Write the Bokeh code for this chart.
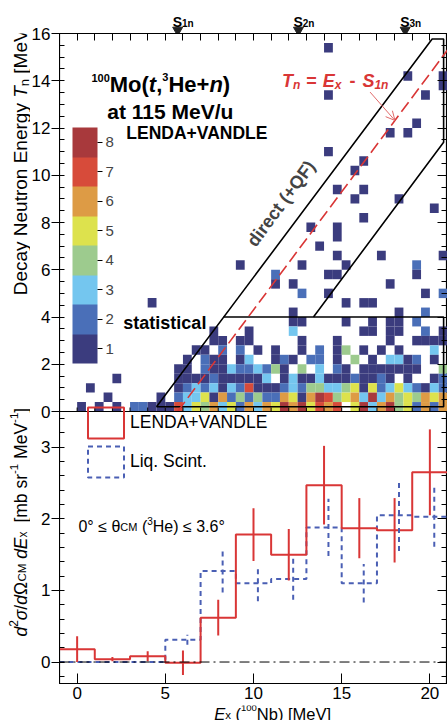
import math
from bokeh.plotting import figure
from bokeh.layouts import column, row
from bokeh.models import (ColumnDataSource, LinearColorMapper, ColorBar, FixedTicker,
                          LinearAxis, Label, Legend, LegendItem, Arrow, OpenHead,
                          Range1d, Span)
from bokeh.transform import linear_cmap
from bokeh.embed import file_html
from bokeh.resources import INLINE

# ------------------------------------------------------------------ data
EX_BIN = 0.5      # MeV, excitation-energy bin of the 2D histogram
TN_BIN = 0.4      # MeV, neutron-energy bin of the 2D histogram
EX_MIN = -1.0

count_levels = [1, 2, 3, 4, 5, 6, 7, 8]
count_palette = ["#3b3c7e", "#4a6fb8", "#74c6ef", "#9dcb8e",
                 "#dde24d", "#dd9b45", "#d74b3a", "#a8393c"]

# counts for Tn < 4 MeV: rows from Tn 3.6-4.0 (top) to 0-0.4 (bottom);
# 44 columns from Ex = -1 to 21 MeV ('.' = empty)
dense_rows = [
    "..........." "..........." "....11....1" "..1.11.2...",
    "..........." "......1...1" "....3......" ".11.11..2.1",
    "..........." "......11.11" ".....1...1." "....1..1111",
    "..........." "....11.2.2." "1.1..1.2.14" ".1.1.1...3.",
    "..........." "...1.211.13" "..121.22.1." "4.1.3312.1.",
    "..........." "..11.211322" "3241.4.3.21" ".1111111..4",
    "......1...." "..111121111" "13.13113111" "21121.1..12",
    "...1......." "..123231327" "11123244334" "51523532132",
    ".....1....." "1.233516242" "42265168745" "63836454656",
    "..1.1.1.221" "11735463526" "3658685767." "58368452626",
]

# isolated cells above Tn = 4 MeV (bin centres)
sparse_ex = [14.25, 18.75, 20.75, 20.75, 14.25, 19.75, 19.25, 17.75, 18.75, 14.25,
             16.25, 15.75, 14.75, 16.25, 15.75, 18.25, 20.25, 16.25, 13.25, 14.75,
             14.75, 13.75, 14.75, 17.25, 20.75, 9.25, 12.75, 15.25, 19.25, 11.25,
             14.25, 14.75, 19.25, 11.25, 12.25, 17.75, 12.75, 14.25, 19.75, 20.75,
             4.25, 15.25, 16.25, 16.75, 12.25, 18.25, 19.75]
sparse_tn = [15.4, 14.2, 14.2, 13.8, 13.4, 13.4, 12.2, 11.8, 11.8, 11.0,
             10.6, 10.2, 9.4, 9.4, 9.0, 9.0, 8.6, 8.2, 7.8, 7.8,
             7.4, 7.0, 6.6, 6.6, 6.6, 6.2, 6.2, 6.2, 6.2, 5.8,
             5.8, 5.8, 5.8, 5.4, 5.4, 5.4, 5.0, 5.0, 5.0, 5.0,
             4.6, 4.6, 4.6, 4.6, 4.2, 4.2, 4.2]
sparse_n = [1, 1, 1, 1, 1, 1, 1, 1, 1, 1,
            1, 1, 1, 1, 1, 1, 1, 1, 1, 1,
            1, 1, 1, 1, 1, 1, 1, 1, 2, 2,
            1, 1, 1, 1, 1, 1, 2, 1, 1, 2,
            1, 1, 1, 1, 1, 1, 2]

# neutron separation energies of 100Nb (MeV)
sep_names = ["1n", "2n", "3n"]
sep_energies = [5.7, 12.55, 18.6]
S1N = sep_energies[0]

# region outlines (Ex, Tn)
direct_ex = [4.5, 20.13, 20.78, 20.78, 13.4]
direct_tn = [0.2, 15.77, 15.77, 11.4, 4.0]
stat_ex = [8.3, 20.78, 20.78, 4.5]
stat_tn = [4.0, 4.0, 0.2, 0.2]
kin_ex = [S1N, 21.0]

# tick positions
tn_ticks = [0, 2, 4, 6, 8, 10, 12, 14, 16]
tn_minor = [k * 0.5 for k in range(33)]
xs_ticks = [0, 1, 2, 3]
xs_minor = [round(-0.2 + 0.2 * k, 1) for k in range(19)]
ex_ticks = [0, 5, 10, 15, 20]
ex_top_ticks = list(range(-1, 22))

# cross sections, 2 MeV bins
bin_lo = [-1, 1, 3, 5, 7, 9, 11, 13, 15, 17, 19]
BIN_W = 2.0
lv_val = [0.18, 0.04, 0.08, -0.01, 0.62, 1.78, 1.50, 2.47, 1.87, 1.84, 2.65]
lv_err = [0.18, 0.03, 0.07, 0.17, 0.25, 0.37, 0.36, 0.55, 0.42, 0.45, 0.60]
ls_val = [0.0, 0.0, 0.0, 0.31, 1.27, 1.10, 1.16, 1.88, 1.10, 2.05, 2.03]
ls_err = [0.0, 0.0, 0.0, 0.07, 0.30, 0.25, 0.29, 0.40, 0.27, 0.50, 0.42]
LS_SHIFT = 0.25

# ------------------------------------------------------------------ style / layout
FONT = "Liberation Sans"
RED = "#d93636"
BLUE = "#4a5fb4"
BASELINE_FIX = 4.0    # px: rendered alphabetic baseline sits this much low

TITLE_W = 30          # strip holding the rotated axis titles
TICK_W = 29           # strip holding the left tick labels
MAIN_W = 447 - TITLE_W - TICK_W
TOP_STRIP_H = 33
TOP_PX = 378          # top panel frame height
BOT_PX = 272          # bottom panel frame height
BOT_BORDER = 22
BOTTOM_STRIP_H = 720 - TOP_STRIP_H - TOP_PX - BOT_PX - BOT_BORDER

BOT_LO, BOT_HI = -0.3, 3.5
TN_HI = 16.0
MAIN_PER_MEV = ((BOT_HI - BOT_LO) / BOT_PX) * (TOP_PX / TN_HI)
INNER_TICK_MEV = 4 * TN_HI / TOP_PX     # 4 px tick length in Tn units


def tn_to_main(t):
    return BOT_HI + t * MAIN_PER_MEV


main_range = Range1d(BOT_LO, tn_to_main(TN_HI) + 1e-9)
tn_range = Range1d(-BOT_PX * TN_HI / TOP_PX, TN_HI + 1e-9 / MAIN_PER_MEV)
x_range = Range1d(-1, 21)

W_REG = {' ': 278, '(': 333, ')': 333, '+': 584, ',': 278, '-': 333, '.': 278, '/': 278,
         '=': 584, '[': 278, ']': 278, 'A': 667, 'B': 667, 'C': 722, 'D': 722, 'E': 667,
         'F': 611, 'H': 722, 'L': 556, 'M': 833, 'N': 722, 'Q': 778, 'S': 667, 'T': 611,
         'V': 667, 'a': 556, 'b': 556, 'c': 500, 'd': 556, 'e': 556, 'g': 556, 'h': 556,
         'i': 222, 'l': 222, 'm': 833, 'n': 556, 'o': 556, 'p': 556, 'r': 333, 's': 500,
         't': 278, 'u': 556, 'x': 500, 'y': 500, '°': 400, '≤': 549, 'θ': 556,
         'σ': 600, 'Ω': 768}
W_BOLD = {' ': 278, '(': 333, ')': 333, '+': 584, ',': 278, '-': 333, '.': 278, '/': 278,
          '=': 584, 'A': 722, 'D': 722, 'E': 667, 'F': 611, 'H': 722, 'L': 611, 'M': 833,
          'N': 722, 'Q': 778, 'S': 667, 'T': 611, 'V': 667, 'a': 556, 'c': 556, 'd': 611,
          'e': 556, 'i': 278, 'l': 278, 'n': 611, 'o': 611, 'r': 389, 's': 556, 't': 333,
          'u': 611, 'x': 556}


def text_width(s, size, bold):
    table = W_BOLD if bold else W_REG
    return sum(table.get(ch, 556) for ch in s) * size / 1000.0


def rich_text(p, x, y, segs, angle=0.0, color="black", dx0=0.0, dy0=0.0, **kw):
    """Lay out styled text pieces one after another along a baseline."""
    a = math.radians(angle)
    ca, sa = math.cos(a), math.sin(a)
    adv = 0.0
    for seg in segs:
        text, size, style = seg[0], seg[1], seg[2]
        rise = (seg[3] if len(seg) > 3 else 0.0) + BASELINE_FIX
        gap = seg[4] if len(seg) > 4 else 0.0
        bold = "bold" in style
        adv += gap
        lead = len(text) - len(text.lstrip(" "))     # SVG drops leading blanks
        adv += text_width(" " * lead, size, bold)
        text = text.lstrip(" ")
        ox = dx0 + adv * ca - rise * sa
        oy = dy0 + adv * sa + rise * ca
        p.add_layout(Label(x=x, y=y, x_offset=ox, y_offset=oy, text=text, angle=a,
                           text_font=FONT, text_font_size=f"{size}px",
                           text_font_style=style, text_color=color,
                           text_align="left", text_baseline="alphabetic", **kw))
        adv += text_width(text, size, bold)


def make_axis(ticks, minor=None, tin=0, tout=0, min_in=0, min_out=0,
              labels=True, size="17px", standoff=3, overrides=None):
    ax = LinearAxis(ticker=FixedTicker(ticks=ticks, minor_ticks=minor or []))
    ax.major_tick_in = tin
    ax.major_tick_out = tout
    ax.minor_tick_in = min_in
    ax.minor_tick_out = min_out
    ax.axis_line_color = "black"
    ax.major_tick_line_color = "black"
    ax.minor_tick_line_color = "black"
    ax.major_label_text_font = FONT
    if labels:
        ax.major_label_text_color = "black"
        ax.major_label_text_font_size = size
        ax.major_label_standoff = standoff
    else:
        ax.major_label_text_color = None
        ax.major_label_text_font_size = "0px"
        ax.major_label_standoff = 0
    if overrides:
        ax.major_label_overrides = overrides
    return ax


def blank_fig(width, height, xr, yr, **kw):
    f = figure(width=width, height=height, x_range=xr, y_range=yr,
               output_backend="svg", toolbar_location=None,
               x_axis_location=None, y_axis_location=None,
               min_border_left=kw.get("left", 0), min_border_right=kw.get("right", 0),
               min_border_top=kw.get("top", 0), min_border_bottom=kw.get("bottom", 0))
    f.grid.visible = False
    f.outline_line_color = None
    f.background_fill_color = "white"
    f.border_fill_color = "white"
    return f


# ------------------------------------------------------------------ main panel (both plots)
P = blank_fig(MAIN_W, TOP_PX + BOT_PX + BOT_BORDER, x_range, main_range, bottom=BOT_BORDER)
P.extra_y_ranges = {"tn": tn_range}
P.outline_line_color = "black"
P.outline_line_width = 1.2

# 2D histogram
cell_ex, cell_tn, cell_n = [], [], []
nrow = len(dense_rows)
for i, rw in enumerate(dense_rows):
    r = nrow - 1 - i
    for c, ch in enumerate(rw):
        if ch != ".":
            cell_ex.append(EX_MIN + (c + 0.5) * EX_BIN)
            cell_tn.append((r + 0.5) * TN_BIN)
            cell_n.append(int(ch))
cell_ex += sparse_ex
cell_tn += sparse_tn
cell_n += sparse_n
src = ColumnDataSource(dict(ex=cell_ex, tn=cell_tn, n=cell_n))
P.rect(x="ex", y="tn", width=EX_BIN, height=TN_BIN, source=src, y_range_name="tn",
       fill_color=linear_cmap("n", count_palette, 0.5, 8.5), line_color=None)

P.line(direct_ex, direct_tn, line_color="black", line_width=1.6, y_range_name="tn")
P.line(stat_ex, stat_tn, line_color="black", line_width=1.6, y_range_name="tn")
P.line(kin_ex, [e - S1N for e in kin_ex], line_color=RED, line_width=1.6,
       line_dash="12 5", y_range_name="tn")

# panel separation and the inward ticks of the top panel's Ex axis
P.add_layout(Span(location=BOT_HI, dimension="width", line_color="black", line_width=1.2))
P.segment(x0=ex_top_ticks, y0=0, x1=ex_top_ticks, y1=INNER_TICK_MEV,
          line_color="black", line_width=1, y_range_name="tn")

# axes of the main frame (labels on the left come from the tick strip)
left_major = xs_ticks + [tn_to_main(t) for t in tn_ticks]
left_minor = xs_minor + [tn_to_main(t) for t in tn_minor]
P.add_layout(make_axis(left_major, left_minor, min_in=5, labels=False), "left")
P.add_layout(make_axis(left_major, left_minor, tin=10, min_in=6, labels=False), "right")
P.add_layout(make_axis(ex_top_ticks, None, tin=7, labels=False), "above")
P.add_layout(make_axis(ex_ticks, None, tin=10, standoff=3), "below")

mapper = LinearColorMapper(palette=count_palette, low=0.5, high=8.5)
cbar = ColorBar(color_mapper=mapper, ticker=FixedTicker(ticks=count_levels),
                location=(13, 320), width=25, height=236, padding=0,
                major_label_text_font=FONT, major_label_text_font_size="15px",
                major_tick_in=0, major_tick_out=5, major_tick_line_color="black",
                minor_tick_line_color=None, label_standoff=3,
                bar_line_color=None, border_line_color=None, background_fill_alpha=0)
P.add_layout(cbar)

TN = dict(y_range_name="tn")
rich_text(P, 0.81, 13.67, [("100", 11, "bold", 7), ("Mo(", 22, "bold"),
                           ("t", 22, "bold italic"), (",", 22, "bold"),
                           ("3", 11, "bold", 8), ("He+", 22, "bold"),
                           ("n", 22, "bold italic"), (")", 22, "bold")], **TN)
rich_text(P, 1.71, 12.53, [("at 115 MeV/u", 21, "bold")], **TN)
rich_text(P, 2.79, 11.6, [("LENDA+VANDLE", 17.5, "bold")], **TN)
rich_text(P, 11.61, 13.8, [("T", 18, "bold italic"), ("n", 12, "bold italic", -4),
                           (" = ", 18, "bold", 0, 1), ("E", 18, "bold italic", 0, 1),
                           ("x", 12, "bold italic", -4), (" - ", 18, "bold", 0, 3),
                           ("S", 18, "bold italic", 0, 2), ("1n", 12, "bold italic", -4)],
          color=RED, **TN)
P.add_layout(Label(x=11.56, y=8.8, text="direct (+QF)", angle=math.radians(53.5),
                   text_font=FONT, text_font_size="18px", text_font_style="bold",
                   text_align="center", text_baseline="middle", **TN))
rich_text(P, 2.62, 3.56, [("statistical", 18, "bold")], **TN)
P.add_layout(Arrow(end=OpenHead(size=9, line_color="#e06a6a", line_width=1),
                   x_start=16.61, y_start=13.52, x_end=18.02, y_end=12.32,
                   line_color="#e06a6a", line_width=1, **TN))

# bottom panel
P.add_layout(Span(location=0, dimension="width", line_color="black",
                  line_width=1, line_dash="10 4 2 4"))
edges = bin_lo + [bin_lo[-1] + BIN_W]
P.step(edges, ls_val + [ls_val[-1]], mode="after", line_color=BLUE,
       line_width=2, line_dash="5 4")
P.step(edges, lv_val + [lv_val[-1]], mode="after", line_color=RED, line_width=2)

centers = [b + BIN_W / 2 for b in bin_lo]
ls_x = [c + LS_SHIFT for c in centers]
P.segment(x0=ls_x, y0=[v - e for v, e in zip(ls_val, ls_err)],
          x1=ls_x, y1=[v + e for v, e in zip(ls_val, ls_err)],
          line_color=BLUE, line_width=2, line_dash="5 4")
P.segment(x0=centers, y0=[v - e for v, e in zip(lv_val, lv_err)],
          x1=centers, y1=[v + e for v, e in zip(lv_val, lv_err)],
          line_color=RED, line_width=2)

bin_hi = [b + BIN_W for b in bin_lo]
leg_r1 = P.quad(left=bin_lo, right=bin_hi, bottom=0, top=lv_val, fill_alpha=0,
                line_color=RED, line_width=2, visible=False)
leg_r2 = P.quad(left=bin_lo, right=bin_hi, bottom=0, top=ls_val, fill_alpha=0,
                line_color=BLUE, line_width=2, line_dash="5 4", visible=False)
legend = Legend(items=[LegendItem(label="LENDA+VANDLE", renderers=[leg_r1]),
                       LegendItem(label="Liq. Scint.", renderers=[leg_r2])],
                location=(24, 202), glyph_width=45, glyph_height=39, spacing=0,
                padding=0, margin=0, label_standoff=2, label_text_font=FONT,
                label_text_font_size="17.5px", label_text_color="black",
                border_line_alpha=0, background_fill_alpha=0,
                inactive_fill_alpha=0)
P.add_layout(legend)

rich_text(P, 0.075, 1.837, [("0°", 16, "normal"), (" ≤ ", 16, "normal"),
                            ("θ", 16, "normal"), ("CM", 11, "normal"),
                            (" (", 16, "normal"), ("3", 10, "normal", 6),
                            ("He)", 16, "normal"), (" ≤ 3.6°", 16, "normal")])

# ------------------------------------------------------------------ strips
# separation-energy markers above the frame
top_strip = blank_fig(MAIN_W, TOP_STRIP_H, x_range, Range1d(0, TOP_STRIP_H))
top_strip.scatter(x=sep_energies, y=3.4, marker="inverted_triangle", size=10,
                  color="#222222")
for name, s in zip(sep_names, sep_energies):
    rich_text(top_strip, s, 8, [("S", 14, "bold"), (name, 10, "bold", -2)], dx0=-5)

# x-axis title below
bottom_strip = blank_fig(MAIN_W, BOTTOM_STRIP_H, x_range, Range1d(0, BOTTOM_STRIP_H))
rich_text(bottom_strip, 7.77, 3.0, [("E", 16.5, "italic"), ("x", 11.5, "normal", -1.5),
                                    (" (", 16.5, "normal"), ("100", 9.5, "normal", 5.5),
                                    ("Nb", 16.5, "normal"), (") [MeV]", 16.5, "normal")])

# left tick labels (shared by both panels)
tick_strip = blank_fig(TICK_W, 720, Range1d(0, 1), main_range,
                       left=TICK_W - 1, top=TOP_STRIP_H, bottom=BOTTOM_STRIP_H + BOT_BORDER)
overrides = {float(t): str(t) for t in xs_ticks}
overrides.update({tn_to_main(t): str(t) for t in tn_ticks})
tick_strip.add_layout(make_axis(left_major, None, tout=8, standoff=1,
                                overrides=overrides), "left")

# rotated axis titles
title_strip = blank_fig(TITLE_W, 720, Range1d(0, TITLE_W), Range1d(0, 720))
rich_text(title_strip, 24, 720 - 290,
          [("Decay Neutron Energy ", 19, "normal"), ("T", 19, "italic"),
           ("n", 13, "normal", -4), (" [MeV]", 19, "normal")], angle=90)
rich_text(title_strip, 24, 720 - 668,
          [("d", 17.5, "italic"), ("2", 12, "normal", 7),
           ("σ", 17.5, "italic"), ("/", 17.5, "normal"),
           ("d", 17.5, "italic"), ("Ω", 17.5, "normal"),
           ("CM", 11.5, "normal", -1), (" d", 17.5, "italic"),
           ("E", 17.5, "italic"), ("x", 12, "normal", -2),
           (" [mb sr", 17.5, "normal", 0, 4), ("-1", 11.5, "normal", 7),
           (" MeV", 17.5, "normal"), ("-1", 11.5, "normal", 7),
           ("]", 17.5, "normal")], angle=90)

layout = row(title_strip, tick_strip, column(top_strip, P, bottom_strip))
open("out.html", "w").write(file_html(layout, INLINE))
